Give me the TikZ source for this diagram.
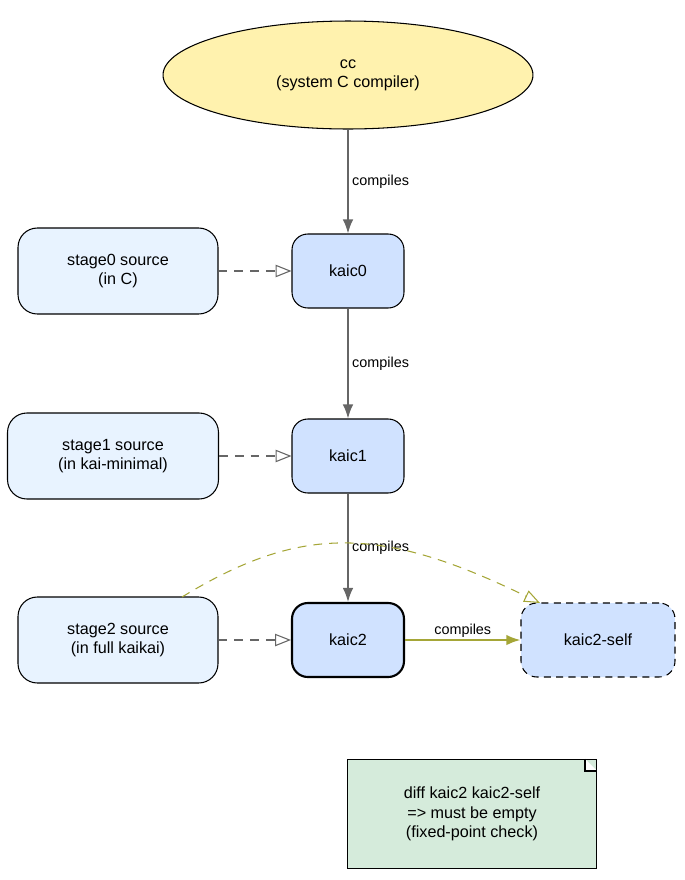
\documentclass[tikz,border=0pt]{standalone}
\usepackage{fontspec}
\setmainfont{Liberation Sans}
\usetikzlibrary{shapes,arrows.meta,calc}
\definecolor{ccfill}{HTML}{FFF2AE}
\definecolor{kaicfill}{HTML}{D0E2FF}
\definecolor{srcfill}{HTML}{E8F3FF}
\definecolor{notefill}{HTML}{D5EBDB}
\definecolor{edgegray}{HTML}{666666}
\definecolor{olive}{HTML}{A5A637}
\tikzstyle{line} = [draw=edgegray, thick, -{Latex[length=8pt,width=6pt]}]
\tikzstyle{feed} = [draw=edgegray, semithick, dash pattern=on 5pt off 4pt, -{Triangle[open,length=9pt,width=7pt]}]
\tikzstyle{block} = [draw, semithick, rectangle, rounded corners=9pt, fill=kaicfill, align=center, minimum width=2.24cm, minimum height=1.48cm]
\tikzstyle{source} = [draw, semithick, rectangle, rounded corners=11pt, fill=srcfill, align=center, minimum height=1.72cm]
\tikzstyle{lbl} = [font=\fontsize{8.2}{10}\selectfont, right, inner sep=2pt]

\begin{document}
\begin{tikzpicture}[x=0.02cm, y=-0.02cm, font=\fontsize{9.2}{11}\selectfont]
        \useasboundingbox (0,0) rectangle (685,880);
        \node[draw, semithick, ellipse, fill=ccfill, align=center, minimum width=7.4cm, minimum height=2.16cm] (cc) at (348,75) {cc\\(system C compiler)};
        \node[block] (kaic0) at (348,271) {kaic0};
        \node[block] (kaic1) at (348,456) {kaic1};
        \node[block, very thick] (kaic2) at (348,640) {kaic2};
        \node[block, dash pattern=on 4pt off 3pt, minimum width=3.08cm] (self) at (598,640) {kaic2-self};
        \node[source, minimum width=4cm] (stage0) at (118,271) {stage0 source\\(in C)};
        \node[source, minimum width=4.22cm] (stage1) at (113,456) {stage1 source\\(in kai-minimal)};
        \node[source, minimum width=4cm] (stage2) at (118,640) {stage2 source\\(in full kaikai)};
        \node[draw, semithick, rectangle, fill=notefill, align=center, minimum width=4.98cm, minimum height=2.18cm] (note) at (472,814) {diff kaic2 kaic2-self\\=> must be empty\\(fixed-point check)};
        \draw[semithick, fill=white] ($(note.north east)+(-12,0)$) -- ($(note.north east)+(-12,12)$) -- ($(note.north east)+(0,12)$);
        \path[line] (cc) -- node[lbl] {compiles} (kaic0);
        \path[line] (kaic0) -- node[lbl] {compiles} (kaic1);
        \path[line] (kaic1) -- node[lbl] {compiles} (kaic2);
        \path[draw=olive, very thick, -{Latex[length=8pt,width=6pt]}] (kaic2) -- node[above, font=\fontsize{8.2}{10}\selectfont, inner sep=1pt] {compiles} (self);
        \path[feed] (stage0) -- (kaic0);
        \path[feed] (stage1) -- (kaic1);
        \path[feed] (stage2) -- (kaic2);
        \path[feed, draw=olive] (182,597) .. controls (300,525) and (380,525) .. (540,603);
    \end{tikzpicture}
\end{document}
